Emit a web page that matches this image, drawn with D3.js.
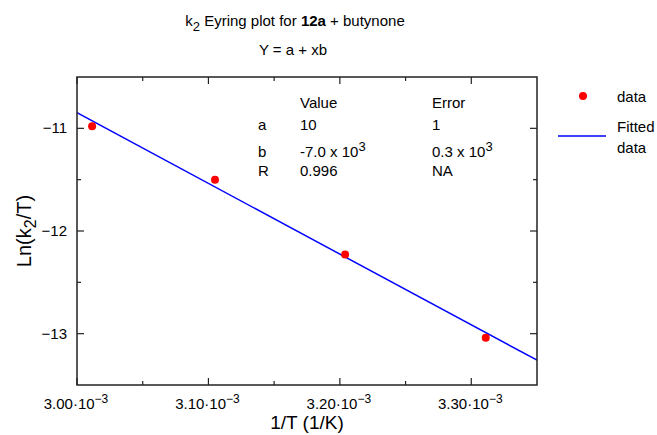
<!DOCTYPE html>
<html>
<head>
<meta charset="utf-8">
<script src="https://cdn.jsdelivr.net/npm/d3@7"></script>
<style>
  body { margin: 0; background: #fff; }
  svg { font-family: "Liberation Sans", Arial, sans-serif; }
</style>
</head>
<body>
<div id="chart"></div>
<script>
// data
const invT = [3.0115e-3, 3.105e-3, 3.204e-3, 3.311e-3];
const lnK = [-10.98, -11.50, -12.23, -13.04];
const fitA = 9.81;     // intercept
const fitB = -6886;    // slope
const xTicks = [3.00e-3, 3.10e-3, 3.20e-3, 3.30e-3];
const xTickLabels = ["3.00", "3.10", "3.20", "3.30"];
const yTicks = [-11, -12, -13];
const tableRows = [
    ["a", "10", null, "1", null],
    ["b", "-7.0 x 10", "3", "0.3 x 10", "3"],
    ["R", "0.996", null, "NA", null]
];

const width = 657, height = 435;
const margin = { top: 77, right: 120, bottom: 50, left: 77 };

const svg = d3.select("#chart").append("svg")
    .attr("width", width)
    .attr("height", height);

const x = d3.scaleLinear()
    .domain([3.00e-3, 3.35e-3])
    .range([margin.left, width - margin.right]);

const y = d3.scaleLinear()
    .domain([-13.5, -10.5])
    .range([height - margin.bottom, margin.top]);

const x0 = x.range()[0], x1 = x.range()[1];
const y0 = y.range()[0], y1 = y.range()[1];

// titles
const t1 = svg.append("text").attr("x", 295).attr("y", 26)
    .attr("text-anchor", "middle").attr("font-size", 15);
t1.append("tspan").text("k");
t1.append("tspan").attr("dy", 5).attr("font-size", 13).text("2");
t1.append("tspan").attr("dy", -5).text(" Eyring plot for ");
t1.append("tspan").attr("font-weight", "bold").text("12a");
t1.append("tspan").text(" + butynone");

svg.append("text").attr("x", 293).attr("y", 55)
    .attr("text-anchor", "middle").attr("font-size", 15)
    .text("Y = a + xb");

// ticks, pointing inward on all four sides
const xMinor = d3.range(3.05e-3, 3.35e-3, 1e-4);
const yMinor = [-11.5, -12.5];

const tickG = svg.append("g").attr("stroke", "#222").attr("stroke-width", 1.2);
xTicks.forEach(v => {
    tickG.append("line").attr("x1", x(v)).attr("x2", x(v)).attr("y1", y0).attr("y2", y0 - 7);
    tickG.append("line").attr("x1", x(v)).attr("x2", x(v)).attr("y1", y1).attr("y2", y1 + 7);
});
xMinor.forEach(v => {
    tickG.append("line").attr("x1", x(v)).attr("x2", x(v)).attr("y1", y0).attr("y2", y0 - 4);
    tickG.append("line").attr("x1", x(v)).attr("x2", x(v)).attr("y1", y1).attr("y2", y1 + 4);
});
yTicks.forEach(v => {
    tickG.append("line").attr("x1", x0).attr("x2", x0 + 7).attr("y1", y(v)).attr("y2", y(v));
    tickG.append("line").attr("x1", x1).attr("x2", x1 - 7).attr("y1", y(v)).attr("y2", y(v));
});
yMinor.forEach(v => {
    tickG.append("line").attr("x1", x0).attr("x2", x0 + 4).attr("y1", y(v)).attr("y2", y(v));
    tickG.append("line").attr("x1", x1).attr("x2", x1 - 4).attr("y1", y(v)).attr("y2", y(v));
});

// tick labels
xTicks.forEach((v, i) => {
    const t = svg.append("text").attr("x", x(v) - 1).attr("y", 409)
        .attr("text-anchor", "middle").attr("font-size", 15);
    t.append("tspan").text(xTickLabels[i] + "\u00b710");
    t.append("tspan").attr("dy", -6).attr("font-size", 12).text("\u22123");
});
yTicks.forEach(v => {
    svg.append("text").attr("x", 67).attr("y", y(v) + 5)
        .attr("text-anchor", "end").attr("font-size", 15)
        .text("\u2212" + Math.abs(v));
});

// axis titles
const yl = svg.append("text")
    .attr("transform", `translate(31,${(y0 + y1) / 2}) rotate(-90)`)
    .attr("text-anchor", "middle").attr("font-size", 20);
yl.append("tspan").text("Ln(k");
yl.append("tspan").attr("dy", 5).attr("font-size", 16).text("2");
yl.append("tspan").attr("dy", -5).text("/T)");

svg.append("text").attr("x", 307).attr("y", 429)
    .attr("text-anchor", "middle").attr("font-size", 19)
    .text("1/T (1/K)");

// fit line, clipped to the frame
svg.append("clipPath").attr("id", "clip").append("rect")
    .attr("x", x0).attr("y", y1).attr("width", x1 - x0).attr("height", y0 - y1);

const fitX = x.domain();
svg.append("path")
    .datum(fitX)
    .attr("clip-path", "url(#clip)")
    .attr("fill", "none")
    .attr("stroke", "#0000ff")
    .attr("stroke-width", 1.5)
    .attr("d", d3.line().x(d => x(d)).y(d => y(fitA + fitB * d)));

// data points
svg.selectAll("circle.pt")
    .data(invT)
    .join("circle")
    .attr("class", "pt")
    .attr("cx", d => x(d))
    .attr("cy", (d, i) => y(lnK[i]))
    .attr("r", 4)
    .attr("fill", "#ff0000");

// frame
svg.append("rect")
    .attr("x", x0).attr("y", y1)
    .attr("width", x1 - x0).attr("height", y0 - y1)
    .attr("fill", "none").attr("stroke", "#222").attr("stroke-width", 1.5);

// fit results table
const tbl = svg.append("g").attr("font-size", 15);
tbl.append("text").attr("x", 300).attr("y", 108).text("Value");
tbl.append("text").attr("x", 432).attr("y", 108).text("Error");
const rowY = [130, 157, 176];
tableRows.forEach((r, i) => {
    tbl.append("text").attr("x", 258).attr("y", rowY[i]).text(r[0]);
    const v = tbl.append("text").attr("x", 300).attr("y", rowY[i]);
    v.append("tspan").text(r[1]);
    if (r[2]) v.append("tspan").attr("dy", -6).attr("font-size", 13).text(r[2]);
    const e = tbl.append("text").attr("x", 432).attr("y", rowY[i]);
    e.append("tspan").text(r[3]);
    if (r[4]) e.append("tspan").attr("dy", -6).attr("font-size", 13).text(r[4]);
});

// legend
const lg = svg.append("g").attr("font-size", 15);
lg.append("circle").attr("cx", 583).attr("cy", 96).attr("r", 4).attr("fill", "#ff0000");
lg.append("text").attr("x", 617).attr("y", 102).text("data");
lg.append("line").attr("x1", 558).attr("x2", 606).attr("y1", 136).attr("y2", 136)
    .attr("stroke", "#0000ff").attr("stroke-width", 1.5);
lg.append("text").attr("x", 617).attr("y", 132).text("Fitted");
lg.append("text").attr("x", 617).attr("y", 153).text("data");
</script>
</body>
</html>
